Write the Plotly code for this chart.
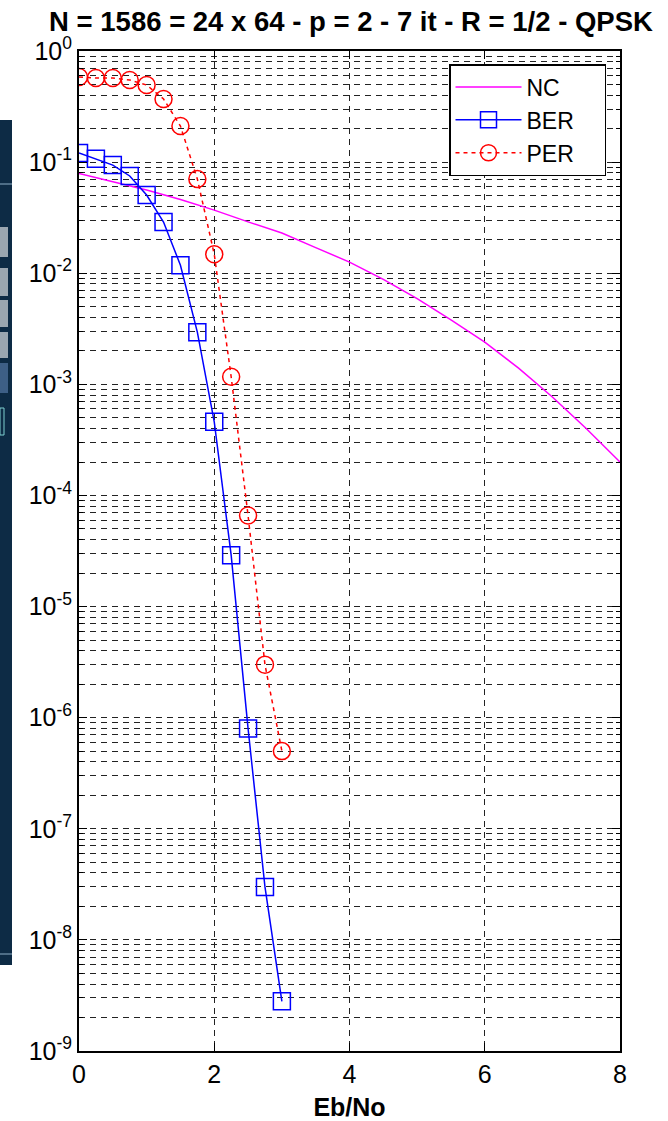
import plotly.graph_objects as go

# ---------------- data ----------------
ebno = [0, 0.25, 0.5, 0.75, 1.0, 1.25, 1.5, 1.75, 2.0, 2.25, 2.5, 2.75, 3.0]
ber = [0.121, 0.107, 0.094, 0.075, 0.0506, 0.0289, 0.0118, 2.95e-3, 4.6e-4,
       2.9e-5, 8.0e-7, 3.0e-8, 2.8e-9]
per = [0.583, 0.571, 0.571, 0.548, 0.494, 0.37, 0.211, 0.0705, 0.0148,
       1.17e-3, 6.6e-5, 3.0e-6, 5.0e-7]
nc_x = [0, 0.5, 1.0, 1.5, 2.0, 2.5, 3.0, 3.5, 4.0, 4.5, 5.0, 5.5, 6.0, 6.5, 7.0, 7.5, 8.0]
nc_y = [0.079, 0.067, 0.056, 0.046, 0.037, 0.029, 0.023, 0.017, 0.0126,
        0.0088, 0.0059, 0.0038, 0.0024, 0.0014, 7.7e-4, 4.0e-4, 2.0e-4]
decades = [0, -1, -2, -3, -4, -5, -6, -7, -8, -9]
x_ticks = [0, 2, 4, 6, 8]
series_names = ["NC", "BER", "PER"]
title_text = "N = 1586 = 24 x 64 - p = 2 - 7 it - R = 1/2 - QPSK"

FONT = "Liberation Sans, Arial, sans-serif"
FIG_W, FIG_H = 668, 1121
ML, MR, MT, MB = 79, 48, 51, 70
PAD = "\u00a0" * 4

fig = go.Figure()
fig.add_trace(go.Scatter(x=nc_x, y=nc_y, mode="lines", name=series_names[0] + PAD,
                         line=dict(color="#ff00ff", width=1.5)))
fig.add_trace(go.Scatter(x=ebno, y=ber, mode="lines+markers", name=series_names[1] + PAD,
                         line=dict(color="#0000ff", width=1.5),
                         marker=dict(symbol="square-open", size=17, color="#0000ff",
                                     line=dict(width=1.5, color="#0000ff"))))
fig.add_trace(go.Scatter(x=ebno, y=per, mode="lines+markers", name=series_names[2] + PAD,
                         line=dict(color="#ff0000", width=1.5, dash="4px,4px"),
                         marker=dict(symbol="circle-open", size=17, color="#ff0000",
                                     line=dict(width=1.5, color="#ff0000"))))

minor_vals = [m * 10.0 ** d for d in range(-9, 0) for m in range(2, 10)]

fig.update_layout(
    width=FIG_W, height=FIG_H,
    margin=dict(l=ML, r=MR, t=MT, b=MB, autoexpand=False),
    paper_bgcolor="white", plot_bgcolor="white",
    font=dict(family=FONT, size=25, color="black"),
    title=dict(text="<b>" + title_text + "</b>", x=351 / FIG_W, xanchor="center",
               y=1 - 21 / FIG_H, yanchor="middle",
               font=dict(family=FONT, size=27.5, color="black")),
    showlegend=True,
    legend=dict(x=(449 - ML) / (FIG_W - ML - MR), y=1 - (64 - MT) / (FIG_H - MT - MB),
                xanchor="left", yanchor="top",
                bgcolor="white", bordercolor="black", borderwidth=1.5,
                font=dict(family=FONT, size=23, color="black"),
                itemwidth=66, tracegroupgap=0),
    xaxis=dict(range=[0, 8], tickvals=x_ticks, ticktext=[str(v) for v in x_ticks],
               showgrid=True, gridcolor="#222222", gridwidth=1, griddash="6px,5px",
               showline=True, linecolor="black", linewidth=2, mirror="ticks",
               ticks="inside", ticklen=8, tickcolor="black", automargin=False,
               zeroline=False, tickfont=dict(size=25),
               title=dict(text="<b>Eb/No</b>", font=dict(family=FONT, size=25), standoff=12)),
    yaxis=dict(type="log", range=[-9, 0],
               tickvals=[10.0 ** d for d in decades],
               ticktext=["10<sup>%d</sup>" % d for d in decades],
               showgrid=True, gridcolor="#222222", gridwidth=1, griddash="6px,5px",
               showline=True, linecolor="black", linewidth=2, mirror="ticks",
               ticks="inside", ticklen=8, tickcolor="black", zeroline=False,
               tickfont=dict(size=25), automargin=False,
               minor=dict(tickvals=minor_vals, showgrid=True, gridcolor="#222222",
                          gridwidth=1, griddash="6px,5px", ticks="inside",
                          ticklen=4, tickcolor="black")),
)

# dark screenshot fragment at the far left edge
W = FIG_W - ML - MR
H = FIG_H - MT - MB
def px_x(p):
    return (p - ML) / W
def px_y(p):
    return (FIG_H - MB - p) / H

shapes = [dict(type="rect", xref="paper", yref="paper",
               x0=px_x(0), x1=px_x(12), y0=px_y(965), y1=px_y(120),
               fillcolor="#0d2b45", line=dict(width=0), layer="above")]
for y0, y1, col in [(227, 257, "#9aa6b0"), (268, 296, "#9aa6b0"), (300, 327, "#9aa6b0"),
                    (332, 358, "#9aa6b0"), (363, 393, "#3d5f86")]:
    shapes.append(dict(type="rect", xref="paper", yref="paper",
                       x0=px_x(0), x1=px_x(8), y0=px_y(y1), y1=px_y(y0),
                       fillcolor=col, line=dict(width=0), layer="above"))
shapes.append(dict(type="rect", xref="paper", yref="paper",
                   x0=px_x(0), x1=px_x(4), y0=px_y(435), y1=px_y(408),
                   fillcolor="rgba(0,0,0,0)", line=dict(width=1, color="#7fd0d0"), layer="above"))
for yy in (184, 954):
    shapes.append(dict(type="line", xref="paper", yref="paper",
                       x0=px_x(0), x1=px_x(12), y0=px_y(yy), y1=px_y(yy),
                       line=dict(width=1, color="#8fb0c8"), layer="above"))
fig.update_layout(shapes=shapes)

fig.write_html("out.html", config={"displayModeBar": False},
               post_script="document.body.style.margin='0';document.body.style.overflow='hidden';")
